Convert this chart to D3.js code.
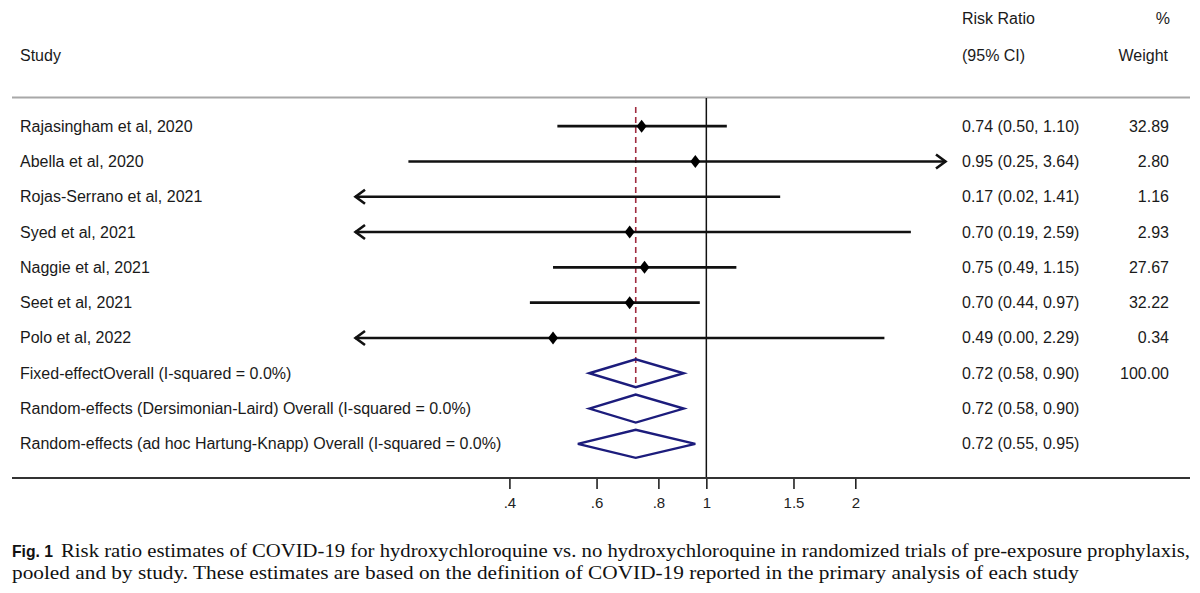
<!DOCTYPE html>
<html>
<head>
<meta charset="utf-8">
<script src="https://cdn.jsdelivr.net/npm/d3@7/dist/d3.min.js"></script>
<style>
  html, body { margin: 0; padding: 0; background: #fff; }
  svg { display: block; }
  .lab { font-family: "Liberation Sans", Arial, sans-serif; fill: #1a1a1a; font-size: 16px; }
</style>
</head>
<body>
<script>
// study rows
var studies = ["Rajasingham et al, 2020", "Abella et al, 2020", "Rojas-Serrano et al, 2021",
    "Syed et al, 2021", "Naggie et al, 2021", "Seet et al, 2021", "Polo et al, 2022"];
var rr = [0.74, 0.95, 0.17, 0.70, 0.75, 0.70, 0.49];
var lo = [0.50, 0.25, 0.02, 0.19, 0.49, 0.44, 0.00];
var hi = [1.10, 3.64, 1.41, 2.59, 1.15, 0.97, 2.29];
var weights = ["32.89", "2.80", "1.16", "2.93", "27.67", "32.22", "0.34"];

// pooled rows
var pooledLabels = ["Fixed-effectOverall (I-squared = 0.0%)",
    "Random-effects (Dersimonian-Laird) Overall (I-squared = 0.0%)",
    "Random-effects (ad hoc Hartung-Knapp) Overall (I-squared = 0.0%)"];
var pooledRR = [0.72, 0.72, 0.72];
var pooledLo = [0.58, 0.58, 0.55];
var pooledHi = [0.90, 0.90, 0.95];
var pooledWeights = ["100.00", "", ""];

var tickValues = [0.4, 0.6, 0.8, 1, 1.5, 2];
var tickLabels = [".4", ".6", ".8", "1", "1.5", "2"];

var width = 1200, height = 593;
var svg = d3.select("body").append("svg")
    .attr("width", width)
    .attr("height", height);

// log scale, clipped to the plotted range (arrows beyond it)
var xMin = 0.195, xMax = 3.05;
var x = d3.scaleLog().domain([xMin, xMax]).range([355, 946]);

var allLabels = studies.concat(pooledLabels);
var y = d3.scaleBand().domain(d3.range(allLabels.length))
    .range([108.5, 461.5]);
var yc = function(i) { return y(i) + y.bandwidth() / 2; };

var fmt = d3.format(".2f");
var ciText = function(e, l, h) { return fmt(e) + " (" + fmt(l) + ", " + fmt(h) + ")"; };

// headers
svg.append("text").attr("class", "lab").attr("x", 20).attr("y", 61).text("Study");
svg.append("text").attr("class", "lab").attr("x", 962).attr("y", 24).text("Risk Ratio");
svg.append("text").attr("class", "lab").attr("x", 962).attr("y", 61).text("(95% CI)");
svg.append("text").attr("class", "lab").attr("x", 1170).attr("y", 24).attr("text-anchor", "end").text("%");
svg.append("text").attr("class", "lab").attr("x", 1168).attr("y", 61).attr("text-anchor", "end").text("Weight");

// top rule
svg.append("line").attr("x1", 12).attr("x2", 1190).attr("y1", 97.5).attr("y2", 97.5)
    .attr("stroke", "#a8a8a8").attr("stroke-width", 2);

// line of no effect
svg.append("line").attr("x1", x(1)).attr("x2", x(1)).attr("y1", 98).attr("y2", 478)
    .attr("stroke", "#111").attr("stroke-width", 1.5);

// overall effect dashed line
svg.append("line").attr("x1", x(pooledRR[0])).attr("x2", x(pooledRR[0]))
    .attr("y1", 107).attr("y2", yc(studies.length) + 13)
    .attr("stroke", "#a02c40").attr("stroke-width", 1.6).attr("stroke-dasharray", "6,4");

// x axis
var axis = d3.axisBottom(x).tickValues(tickValues)
    .tickFormat(function(d, i) { return tickLabels[i]; })
    .tickSize(11).tickSizeOuter(0).tickPadding(8);
var ax = svg.append("g").attr("transform", "translate(0,478)").call(axis);
ax.select(".domain").remove();
ax.append("line").attr("x1", 12).attr("x2", 1190).attr("stroke", "#333").attr("stroke-width", 2.2);
ax.selectAll(".tick line").attr("stroke", "#222").attr("stroke-width", 1.6);
ax.selectAll(".tick text").attr("fill", "#222")
    .style("font-family", "Liberation Sans, Arial, sans-serif").style("font-size", "15px");

// study rows
var rows = svg.append("g").selectAll("g").data(studies).enter().append("g");

rows.append("text").attr("class", "lab").attr("x", 20)
    .attr("y", function(d, i) { return yc(i) + 5.5; })
    .text(function(d) { return d; });

rows.append("text").attr("class", "lab").attr("x", 962)
    .attr("y", function(d, i) { return yc(i) + 5.5; })
    .text(function(d, i) { return ciText(rr[i], lo[i], hi[i]); });

rows.append("text").attr("class", "lab").attr("x", 1169).attr("text-anchor", "end")
    .attr("y", function(d, i) { return yc(i) + 5.5; })
    .text(function(d, i) { return weights[i]; });

rows.each(function(d, i) {
    var g = d3.select(this);
    var cy = yc(i);
    var l = Math.max(lo[i], xMin), h = Math.min(hi[i], xMax);
    g.append("line").attr("x1", x(l)).attr("x2", x(h)).attr("y1", cy).attr("y2", cy)
        .attr("stroke", "#111").attr("stroke-width", 2.6);
    if (lo[i] < xMin) {
        g.append("path").attr("d", d3.line()([[x(l) + 10, cy - 7], [x(l) + 0.5, cy], [x(l) + 10, cy + 7]]))
            .attr("fill", "none").attr("stroke", "#111").attr("stroke-width", 2.6);
    }
    if (hi[i] > xMax) {
        g.append("path").attr("d", d3.line()([[x(h) - 10, cy - 7], [x(h) - 0.5, cy], [x(h) - 10, cy + 7]]))
            .attr("fill", "none").attr("stroke", "#111").attr("stroke-width", 2.6);
    }
    if (rr[i] >= xMin && rr[i] <= xMax) {
        var px = x(rr[i]);
        g.append("path").attr("d", d3.line()([[px, cy - 6.5], [px + 5, cy], [px, cy + 6.5], [px - 5, cy]]) + "Z")
            .attr("fill", "#000");
    }
});

// pooled rows
var prow = svg.append("g").selectAll("g").data(pooledLabels).enter().append("g");
var k = studies.length;

prow.append("text").attr("class", "lab").attr("x", 20)
    .attr("y", function(d, i) { return yc(k + i) + 5.5; })
    .text(function(d) { return d; });

prow.append("text").attr("class", "lab").attr("x", 962)
    .attr("y", function(d, i) { return yc(k + i) + 5.5; })
    .text(function(d, i) { return ciText(pooledRR[i], pooledLo[i], pooledHi[i]); });

prow.append("text").attr("class", "lab").attr("x", 1169).attr("text-anchor", "end")
    .attr("y", function(d, i) { return yc(k + i) + 5.5; })
    .text(function(d, i) { return pooledWeights[i]; });

prow.append("path")
    .attr("d", function(d, i) {
        var cy = yc(k + i);
        return d3.line()([[x(pooledLo[i]), cy], [x(pooledRR[i]), cy - 14],
            [x(pooledHi[i]), cy], [x(pooledRR[i]), cy + 14]]) + "Z";
    })
    .attr("fill", "none").attr("stroke", "#1c1c7c").attr("stroke-width", 2.4)
    .attr("stroke-linejoin", "miter");

// caption (condensed Times look, stretched to the printed line widths)
svg.append("text").attr("x", 12).attr("y", 557)
    .style("font-family", "Liberation Sans, Arial, sans-serif").style("font-weight", "bold")
    .style("font-size", "17px").attr("fill", "#111")
    .attr("textLength", 41).attr("lengthAdjust", "spacingAndGlyphs")
    .text("Fig. 1");
svg.append("text").attr("x", 61).attr("y", 557)
    .style("font-family", "Liberation Serif, Times New Roman, serif").style("font-size", "19px").attr("fill", "#111")
    .attr("textLength", 1129).attr("lengthAdjust", "spacingAndGlyphs")
    .text("Risk ratio estimates of COVID-19 for hydroxychloroquine vs. no hydroxychloroquine in randomized trials of pre-exposure prophylaxis,");
svg.append("text").attr("x", 12).attr("y", 579)
    .style("font-family", "Liberation Serif, Times New Roman, serif").style("font-size", "19px").attr("fill", "#111")
    .attr("textLength", 1067).attr("lengthAdjust", "spacingAndGlyphs")
    .text("pooled and by study. These estimates are based on the definition of COVID-19 reported in the primary analysis of each study");
</script>
</body>
</html>
